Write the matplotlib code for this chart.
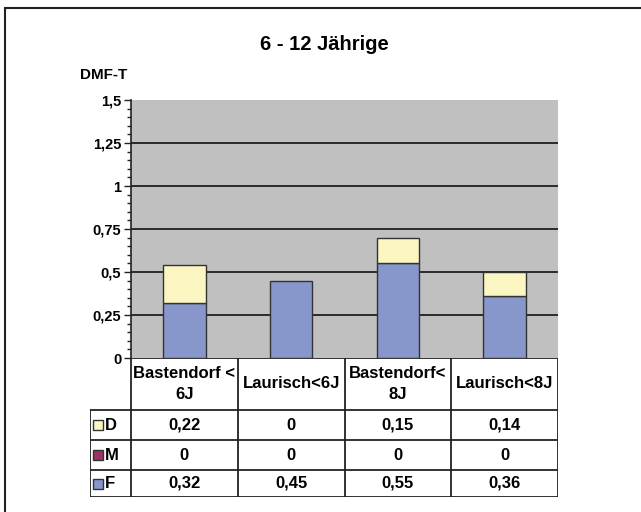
import numpy as np
import matplotlib.pyplot as plt
from matplotlib.patches import Rectangle
from matplotlib.lines import Line2D

plt.rcParams['font.family'] = ['Liberation Sans', 'DejaVu Sans']
plt.rcParams['font.weight'] = 'bold'

categories = ["Bastendorf <\n6J", "Laurisch<6J", "Bastendorf<\n8J", "Laurisch<8J"]
F = [0.32, 0.45, 0.55, 0.36]
M = [0, 0, 0, 0]
D = [0.22, 0, 0.15, 0.14]
y_ticks = [0, 0.25, 0.5, 0.75, 1, 1.25, 1.5]
y_labels = ["0", "0,25", "0,5", "0,75", "1", "1,25", "1,5"]

col_F = "#8797cc"
col_M = "#993366"
col_D = "#fbf6c2"
grid_col = "#2a2a2a"

W, H = 641, 512
fig = plt.figure(figsize=(W / 100, H / 100), dpi=100)


def px(x0, y0, x1, y1):
    # pixel box (top-left origin) -> figure fraction rect
    return [x0 / W, 1 - y1 / H, (x1 - x0) / W, (y1 - y0) / H]


# frame around the whole chart
fig.add_artist(Rectangle((5 / W, -0.1), 1.1, 1 - 8 / H + 0.1, transform=fig.transFigure,
                         fill=False, edgecolor="#222222", linewidth=1.5))

fig.text(324 / W, 1 - 45 / H, "6 - 12 Jährige", ha="center", va="center", fontsize=14.5)
fig.text(80 / W, 1 - 75 / H, "DMF-T", ha="left", va="center", fontsize=11)

# main plot
ax = fig.add_axes(px(131, 100, 558, 358))
ax.set_facecolor("#c0c0c0")
x = np.arange(len(categories))
bw = 0.4
ax.bar(x, F, bw, color=col_F, edgecolor="#333333", linewidth=1.0, zorder=3)
ax.bar(x, M, bw, bottom=F, color=col_M, edgecolor="#333333", linewidth=0, zorder=3)
bottom_D = np.array(F) + np.array(M)
ax.bar(x, D, bw, bottom=bottom_D, color=col_D, edgecolor="#333333",
       linewidth=np.where(np.array(D) > 0, 1.0, 0), zorder=3)
ax.set_xlim(-0.5, len(categories) - 0.5)
ax.set_ylim(0, 1.5)
ax.set_yticks(y_ticks)
ax.set_yticklabels(y_labels, fontsize=10.5)
ax.set_yticks(np.arange(0, 1.5001, 0.05), minor=True)
ax.tick_params(axis="y", which="major", length=5, width=1, color="#222222", pad=2)
ax.tick_params(axis="y", which="minor", length=3, width=1, color="#222222")
ax.set_xticks([])
for t in y_ticks[1:-1]:
    ax.axhline(t, color=grid_col, linewidth=1.4, zorder=1)
for s in ["top", "right", "bottom"]:
    ax.spines[s].set_visible(False)
ax.spines["left"].set_color("#222222")
ax.spines["left"].set_linewidth(1.2)

# data table underneath
tab = fig.add_axes(px(90, 358, 558, 497))
lab_w = 41 / 106.75
tab.set_xlim(-0.5 - lab_w, len(categories) - 0.5)
tab.set_ylim(139, 0)
tab.axis("off")
row_y = [0, 52, 82, 112, 139]
lc = "#222222"
lw = 1.3
# horizontal lines
tab.add_line(Line2D([-0.5, 3.5], [row_y[0]] * 2, color=lc, lw=lw))
for yy in row_y[1:]:
    tab.add_line(Line2D([-0.5 - lab_w, 3.5], [yy] * 2, color=lc, lw=lw))
# vertical lines
for xx in np.arange(-0.5, 4.0, 1.0):
    tab.add_line(Line2D([xx, xx], [0, 139], color=lc, lw=lw))
tab.add_line(Line2D([-0.5 - lab_w] * 2, [52, 139], color=lc, lw=lw))

for i, c in enumerate(categories):
    tab.text(i, 26, c, ha="center", va="center", fontsize=12, linespacing=1.45)

series = [("D", D, col_D), ("M", M, col_M), ("F", F, col_F)]
for r, (name, vals, col) in enumerate(series):
    yc = (row_y[r + 1] + row_y[r + 2]) / 2
    kx = -0.5 - lab_w + 3 / 106.75
    tab.add_patch(Rectangle((kx, yc - 5), 10 / 106.75, 10, facecolor=col,
                            edgecolor="#333333", linewidth=1))
    tab.text(kx + 12 / 106.75, yc, name, ha="left", va="center", fontsize=12)
    for i, v in enumerate(vals):
        tab.text(i, yc, ("%g" % v).replace(".", ","), ha="center", va="center", fontsize=12)

fig.savefig("out.png", dpi=100)
